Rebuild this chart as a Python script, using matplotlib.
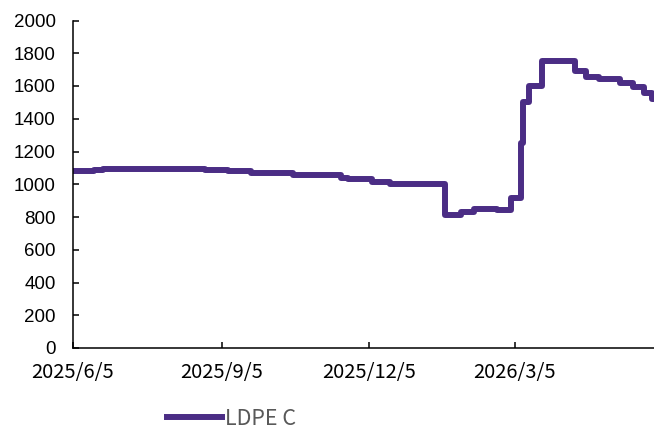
import numpy as np
import pandas as pd
import matplotlib
matplotlib.use("Agg")
import matplotlib.pyplot as plt

# change points of the price series (value holds from that date on)
dates = [
    "2025-06-05", "2025-06-18", "2025-06-24", "2025-08-26", "2025-09-09",
    "2025-09-23", "2025-10-19", "2025-11-18", "2025-11-22", "2025-12-07",
    "2025-12-18", "2026-01-21", "2026-01-31", "2026-02-08", "2026-02-22",
    "2026-03-03", "2026-03-09", "2026-03-10", "2026-03-14", "2026-03-22",
    "2026-04-11", "2026-04-18", "2026-04-26", "2026-05-09", "2026-05-17",
    "2026-05-24", "2026-05-29", "2026-06-02",
]
ldpe_c = [
    1080, 1085, 1095, 1090, 1080,
    1070, 1055, 1040, 1030, 1015,
    1000, 815, 830, 850, 845,
    915, 1250, 1500, 1600, 1750,
    1690, 1655, 1640, 1620, 1595,
    1555, 1520, 1520,
]
tick_dates = ["2025-06-05", "2025-09-05", "2025-12-05", "2026-03-05"]
tick_labels = ["2025/6/5", "2025/9/5", "2025/12/5", "2026/3/5"]

x = pd.to_datetime(dates)
line_color = "#4B2D85"

fig = plt.figure(figsize=(6.54, 4.29), dpi=100)
ax = fig.add_axes([72.5 / 654, 1 - 348 / 429, 1 - 72.5 / 654, (348 - 20.5) / 429])

ax.plot(x, ldpe_c, color=line_color, lw=4.3, drawstyle="steps-post",
        solid_joinstyle="round", label="LDPE C")

ax.set_ylim(0, 2000)
ax.set_yticks(np.arange(0, 2001, 200))
ax.set_xlim(pd.Timestamp("2025-06-05"), pd.Timestamp("2026-05-30"))
ax.set_xticks(pd.to_datetime(tick_dates))
ax.set_xticklabels(tick_labels, family=["Noto Sans CJK SC", "DejaVu Sans"], fontsize=14.5)

for lab in ax.get_yticklabels():
    lab.set_family("Liberation Sans")
    lab.set_fontsize(13.5)

ax.spines["top"].set_visible(False)
ax.spines["right"].set_visible(False)
for s in ("left", "bottom"):
    ax.spines[s].set_linewidth(1.1)
    ax.spines[s].set_color("black")
ax.tick_params(axis="y", direction="in", length=4, width=1.1, pad=12)
ax.tick_params(axis="x", direction="in", length=4, width=1.1, pad=10)

leg = fig.legend(loc="center left", bbox_to_anchor=(167 / 654, 1 - 419 / 429),
                 frameon=False, handlelength=2.55, handletextpad=0.15,
                 borderpad=0, borderaxespad=0,
                 prop={"family": ["Noto Sans CJK SC", "DejaVu Sans"], "size": 15.5})
for t in leg.get_texts():
    t.set_color("#595959")

fig.savefig("out.png", dpi=100)
